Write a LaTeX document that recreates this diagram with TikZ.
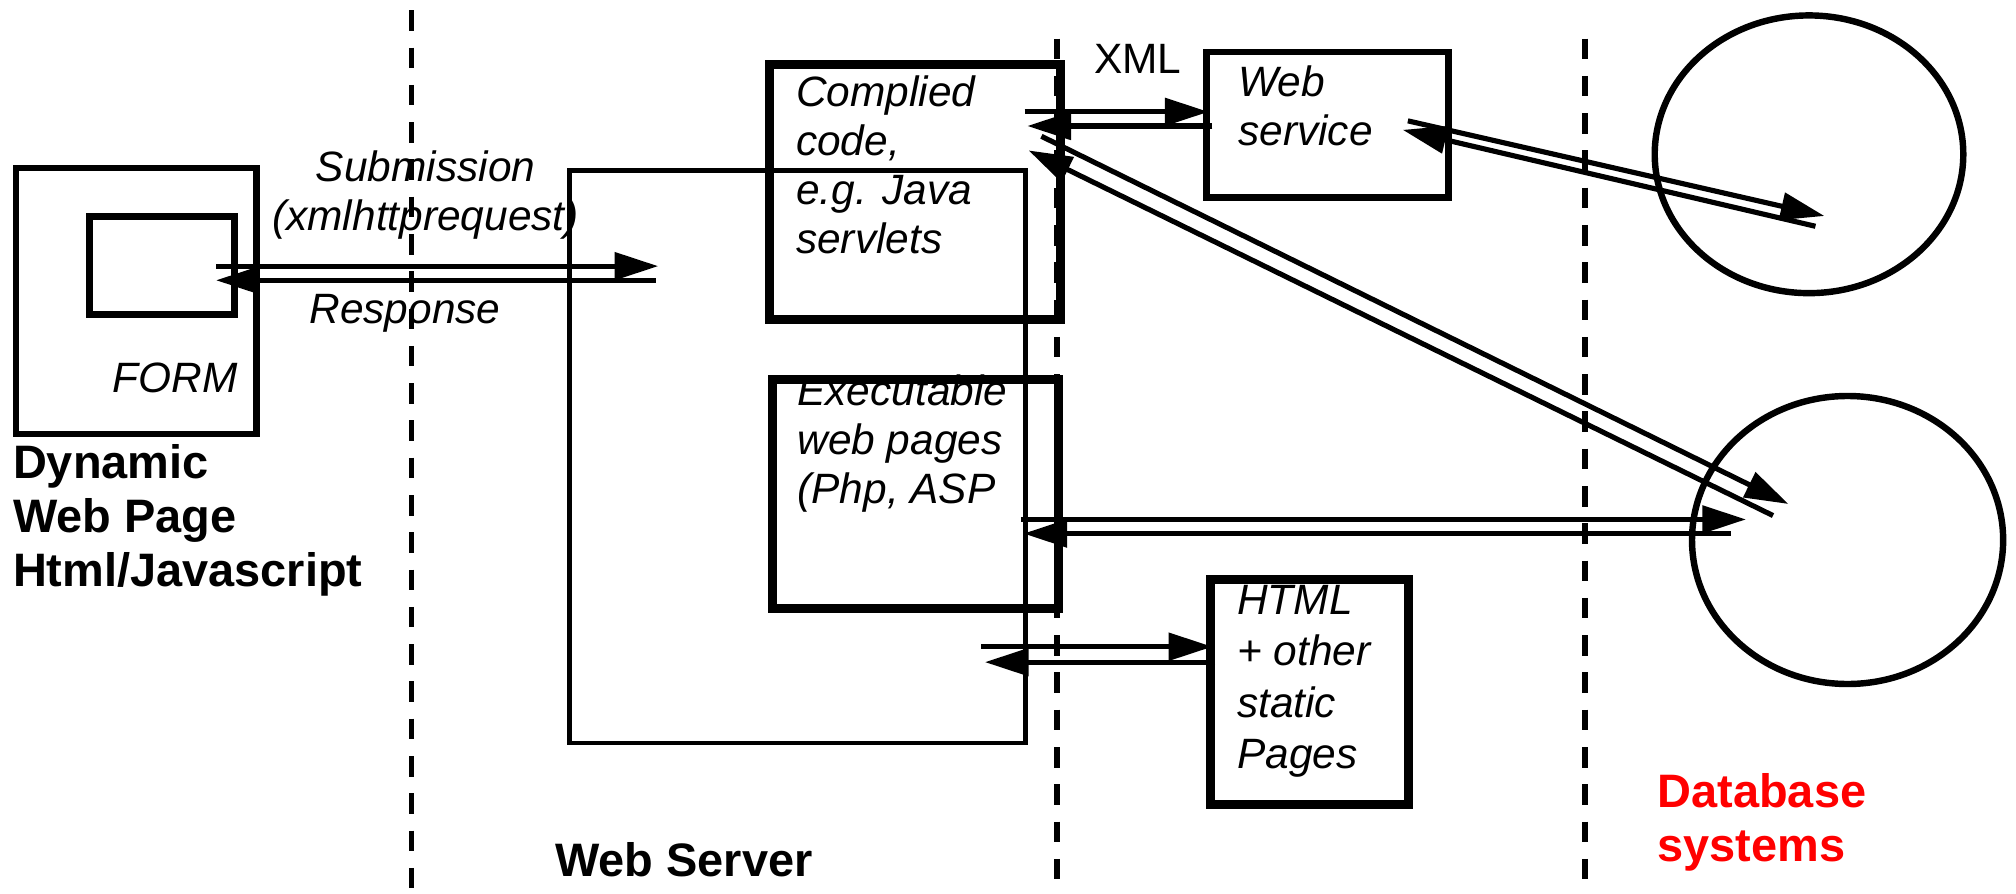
\documentclass[tikz,border=0pt]{standalone}
\usepackage{fontspec}
\setmainfont{Liberation Sans}
\usetikzlibrary{arrows.meta,shapes.geometric}
\begin{document}
\begin{tikzpicture}[x=1pt,y=-1pt,
  box/.style={draw, inner sep=0pt, anchor=north west},
  db/.style={draw, ellipse, inner sep=0pt, line width=5pt},
  lbl/.style={font=\fontsize{33}{38}\selectfont\itshape, inner sep=0pt, align=left},
  plain/.style={font=\fontsize{33}{38}\selectfont, inner sep=0pt},
  heading/.style={font=\fontsize{36.5}{42}\selectfont\bfseries, inner sep=0pt, align=left},
  arr/.style={line width=4pt, -{Triangle[length=34pt,width=21pt]}},
  divider/.style={line width=4.5pt, dash pattern=on 16pt off 13pt}]
\useasboundingbox (0,0) rectangle (1568,695);

% tier separators
\coordinate (s1t) at (320,8);    \coordinate (s1b) at (320,695);
\coordinate (s2t) at (822,30);   \coordinate (s2b) at (822,695);
\coordinate (s3t) at (1233,30);  \coordinate (s3b) at (1233,695);
\draw[divider] (s1t) -- (s1b);
\draw[divider] (s2t) -- (s2b);
\draw[divider] (s3t) -- (s3b);

% client side
\node[box, line width=5pt, minimum width=187pt, minimum height=207pt] (form) at (10,128) {};
\node[box, line width=5pt, minimum width=113pt, minimum height=76pt] (forminner) at (67,166) {};
\node[lbl, anchor=east] (formlbl) at (185,294) {FORM};
\node[heading, anchor=west] (client) at (10,405) {Dynamic\\Web Page\\Html/Javascript};

% web server
\node[box, line width=3.5pt, minimum width=355pt, minimum height=445pt] (server) at (441,131) {};
\node[box, line width=7pt, minimum width=226pt, minimum height=198pt] (compiled) at (595,47) {};
\node[box, line width=7pt, minimum width=223pt, minimum height=178pt] (exec) at (597,292) {};
\node[lbl, anchor=west] (compiledlbl) at (619,128) {Complied\\code,\\e.g. Java\\servlets};
\node[lbl, anchor=west] (execlbl) at (620,345) {Executable\\web pages\\(Php, ASP};
\node[heading, anchor=center] (serverlbl) at (532,669) {Web Server};

% services and static content
\node[box, line width=5pt, minimum width=188pt, minimum height=113pt] (websvc) at (936,38) {};
\node[lbl, anchor=west] (websvclbl) at (963,82) {Web\\service};
\node[plain] (xml) at (885,46) {XML};
\node[box, line width=7pt, minimum width=154pt, minimum height=175pt] (html) at (938,447) {};
\node[lbl, anchor=west, font=\fontsize{33}{40}\selectfont\itshape] (htmllbl) at (962,530) {HTML\\+ other\\static\\Pages};

% databases
\node[db, minimum width=240pt, minimum height=216pt] (db1) at (1407,120) {};
\node[db, minimum width=242pt, minimum height=224pt] (db2) at (1437,420) {};
\node[heading, anchor=west, text=red] (dblbl) at (1289,640) {Database\\systems};

% request/response labels
\node[lbl, align=center] (sublbl) at (331,152) {Submission\\(xmlhttprequest)};
\node[lbl] (reslbl) at (315,244) {Response};

% connector end points
\coordinate (sub1) at (168,207);  \coordinate (sub2) at (512,207);
\coordinate (res1) at (510,218);  \coordinate (res2) at (168,218);
\coordinate (cw1) at (797,87);    \coordinate (cw2) at (940,87);
\coordinate (cw3) at (943,98);    \coordinate (cw4) at (799,98);
\coordinate (d1) at (810,106);    \coordinate (d2) at (1391,392);
\coordinate (d3) at (1379,401);   \coordinate (d4) at (800,117);
\coordinate (e1) at (794,404);    \coordinate (e2) at (1358,404);
\coordinate (e3) at (1346,415);   \coordinate (e4) at (796,415);
\coordinate (w1) at (1095,94);    \coordinate (w2) at (1419,168);
\coordinate (w3) at (1412,176);   \coordinate (w4) at (1091,101);
\coordinate (h1) at (763,503);    \coordinate (h2) at (943,503);
\coordinate (h3) at (945,515);    \coordinate (h4) at (766,515);

% connectors
\draw[arr] (sub1) -- (sub2);
\draw[arr] (res1) -- (res2);
\draw[arr] (cw1) -- (cw2);
\draw[arr] (cw3) -- (cw4);
\draw[arr] (d1) -- (d2);
\draw[arr] (d3) -- (d4);
\draw[arr] (e1) -- (e2);
\draw[arr] (e3) -- (e4);
\draw[arr] (w1) -- (w2);
\draw[arr] (w3) -- (w4);
\draw[arr] (h1) -- (h2);
\draw[arr] (h3) -- (h4);
\end{tikzpicture}
\end{document}
